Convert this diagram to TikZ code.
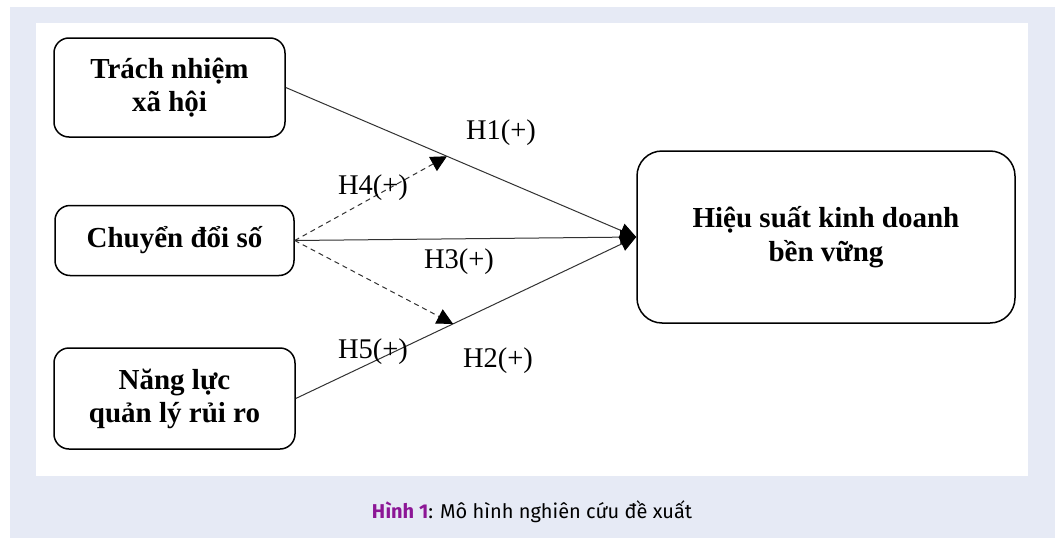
\documentclass[tikz,border=0pt]{standalone}
\usepackage{fontspec}
\setmainfont{Liberation Serif}
\newfontfamily\capfont{Fira Sans}
\usetikzlibrary{arrows.meta,calc}
\definecolor{bgblue}{RGB}{230,234,245}
\definecolor{hpurple}{RGB}{140,22,150}
\definecolor{linegray}{RGB}{50,50,50}
\tikzset{
  box/.style={draw=black, line width=1.5pt, rounded corners=15pt, align=center, inner sep=0pt,
    font=\fontsize{29}{33}\selectfont\bfseries},
  bigbox/.style={box, rounded corners=25pt, font=\fontsize{29}{34}\selectfont\bfseries},
  link/.style={draw=linegray, line width=1pt, -{Triangle[length=16pt,width=15pt,fill=black,color=black]}},
  dlink/.style={draw=linegray, line width=1pt, dash pattern=on 5pt off 4pt, -{Triangle[length=16pt,width=16pt,fill=black,color=black]}},
  hlab/.style={font=\fontsize{28.5}{31}\selectfont, inner sep=0pt}
}
\begin{document}
\begin{tikzpicture}[x=1pt,y=-1pt]
\useasboundingbox (0,0) rectangle (1058,538);
\fill[white] (0,0) rectangle (1058,538);
\fill[bgblue] (10,7) rectangle (1055,538);
\fill[white] (36,23) rectangle (1028,476);

\node[box, minimum width=231pt, minimum height=99pt] (b1) at (169.5,87.5) {Trách nhiệm\\xã hội};
\node[box, minimum width=239pt, minimum height=70pt] (b2) at (174.5,240.5) {Chuyển đổi số};
\node[box, minimum width=241pt, minimum height=101pt] (b3) at (174.5,398.5) {Năng lực\\quản lý rủi ro};
\node[bigbox, minimum width=378pt, minimum height=172pt] (b4) at (826,237) {Hiệu suất kinh doanh\\bền vững};

\coordinate (h4end) at ($(b1.east)!0.46!(b4.west)$);
\coordinate (h5end) at ($(b3.east)!0.462!(b4.west)$);

\draw[link] (b1.east) -- (b4.west);
\draw[link] (b2.east) -- (b4.west);
\draw[link] (b3.east) -- (b4.west);
\draw[dlink] (b2.east) -- (h4end);
\draw[dlink] (b2.east) -- (h5end);

\node[hlab] (l1) at (501,133) {H1(+)};
\node[hlab] (l4) at (373,188) {H4(+)};
\node[hlab] (l3) at (459,262) {H3(+)};
\node[hlab] (l5) at (373,352) {H5(+)};
\node[hlab] (l2) at (498,361) {H2(+)};

\node[font=\capfont\fontsize{20}{23}\selectfont, inner sep=0pt] (cap) at (532,512)
  {{\color{hpurple}\bfseries Hình 1}: Mô hình nghiên cứu đề xuất};
\end{tikzpicture}
\end{document}
